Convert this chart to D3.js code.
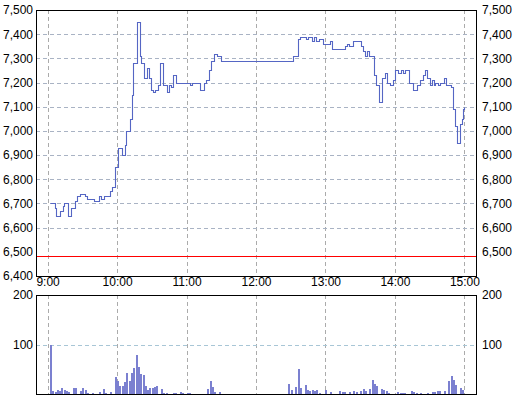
<!DOCTYPE html>
<html><head><meta charset="utf-8">
<script src="https://cdn.jsdelivr.net/npm/d3@7"></script>
<style>
html,body{margin:0;padding:0;background:#fff;}
svg{display:block;font-family:"Liberation Sans",Arial,sans-serif;font-size:12px;}
</style></head>
<body>
<svg id="c" width="514" height="401"></svg>
<script>
// ---- data ----
const priceTimes = ["9:02","9:06","9:07","9:11","9:13","9:14","9:18","9:20","9:24","9:25","9:28","9:32","9:34","9:40","9:44","9:46","9:49","9:54","9:56","9:58",
"10:01","10:04","10:07","10:08","10:11","10:13","10:14","10:17","10:20","10:21","10:23","10:26","10:28","10:29","10:31","10:33","10:35","10:37","10:40","10:43","10:45","10:47","10:48","10:51",
"11:03","11:05","11:12","11:15","11:17","11:19","11:21","11:24","11:26","11:30",
"12:32","12:36","12:38","12:43","12:45","12:48","12:50","12:52","12:54","12:58",
"13:04","13:06","13:17","13:19","13:20","13:24","13:31","13:32","13:34","13:36","13:38","13:42","13:44","13:46","13:49","13:51","13:53","13:56","13:58",
"14:00","14:03","14:05","14:07","14:09","14:12","14:16","14:19","14:22","14:24","14:26","14:28","14:30","14:32","14:34","14:35","14:37","14:39","14:42","14:44","14:48","14:50","14:52","14:54","14:56","14:58","14:59","15:00"];
const priceValues = [6700,6680,6650,6670,6690,6700,6650,6680,6710,6730,6740,6730,6720,6710,6730,6720,6730,6750,6770,6850,
6930,6900,6940,7000,7050,7150,7280,7450,7310,7280,7220,7260,7220,7170,7160,7170,7190,7280,7190,7160,7190,7180,7230,7200,
7190,7200,7170,7200,7210,7250,7290,7320,7310,7290,
7310,7380,7390,7380,7390,7370,7390,7370,7380,7360,
7370,7340,7350,7360,7350,7370,7350,7330,7310,7330,7310,7230,7190,7120,7220,7240,7200,7190,7210,
7250,7240,7250,7240,7250,7200,7170,7190,7210,7230,7250,7220,7190,7210,7190,7200,7190,7200,7220,7190,7180,7090,7020,6950,7030,7050,7090,7100,7100];
const volTimes = ["9:02","9:04","9:06","9:08","9:10","9:12","9:14","9:16","9:18","9:22","9:24","9:28","9:30","9:32","9:34","9:38","9:44","9:48","9:50","9:54","9:58",
"10:00","10:02","10:04","10:06","10:08","10:10","10:12","10:14","10:16","10:18","10:20","10:22","10:24","10:26","10:28","10:30","10:32","10:34","10:38","10:40","10:42","10:48","10:50","10:54","10:56",
"11:00","11:02","11:18","11:20","11:22","11:24","11:28",
"12:28","12:30","12:34","12:36","12:38","12:42","12:44","12:46","12:48","12:50","12:52","12:54",
"13:00","13:04","13:12","13:14","13:16","13:20","13:24","13:26","13:30","13:32","13:34","13:38","13:40","13:42","13:44","13:48","13:50","13:52","13:54",
"14:02","14:04","14:06","14:08","14:14","14:16","14:18","14:22","14:28","14:32","14:34","14:36","14:38","14:42","14:46","14:48","14:50","14:52","14:56","14:58"];
const volValues = [100,7,5,9,6,12,8,7,4,12,12,6,12,8,3,3,5,10,3,5,35,
27,16,16,25,43,27,42,52,78,55,40,39,16,9,13,13,15,17,11,3,2,3,3,5,3,
3,2,10,27,15,5,4,
21,9,14,50,13,19,8,7,9,7,9,2,
9,5,7,5,5,5,7,5,7,10,7,11,29,21,16,11,9,7,3,
5,3,3,3,7,5,3,3,3,5,5,7,7,7,27,36,28,19,13,9];
const refPrice = 6480;
const priceTicks = [7500,7400,7300,7200,7100,7000,6900,6800,6700,6600,6500,6400];
const priceGrid = [7400,7300,7200,7100,7000,6900,6800,6700,6600];
const volTicks = [200,100];
const timeTicks = ["9:00","10:00","11:00","12:00","13:00","14:00","15:00"];

// ---- drawing ----
const parse = d3.timeParse("%H:%M");
const svg = d3.select("#c");
const L = 36, R = 476, mT = 10, mB = 276, vT = 295, vB = 394;
const x = d3.scaleTime().domain([parse("8:50"), parse("15:10")]).range([L, R]);
const y = d3.scaleLinear().domain([6400, 7500]).range([mB, mT]);
const yv = d3.scaleLinear().domain([0, 200]).range([vB, vT]);
const fmt = d3.format(",");
const px = v => Math.round(v) + 0.5;

function grid(g, yTop, yBot, hVals, ys, hColor) {
  g.selectAll("line.vg").data(timeTicks).join("line").attr("class", "vg")
    .attr("x1", d => px(x(parse(d)))).attr("x2", d => px(x(parse(d))))
    .attr("y1", yTop).attr("y2", yBot)
    .style("stroke", "#ababab").attr("stroke-dasharray", "4,3");
  g.selectAll("line.hg").data(hVals).join("line").attr("class", "hg")
    .attr("x1", L).attr("x2", R)
    .attr("y1", d => px(ys(d))).attr("y2", d => px(ys(d)))
    .style("stroke", hColor).attr("stroke-dasharray", "4,3");
}

// main panel
const gm = svg.append("g");
grid(gm, mT, mB, priceGrid, y, "#a9b3c4");
gm.append("rect").attr("class", "ref")
  .attr("x", L).attr("width", R - L)
  .attr("y", Math.floor(y(refPrice))).attr("height", 1)
  .attr("shape-rendering", "crispEdges")
  .style("fill", "#ff0000");
const pdata = priceTimes.map((t, i) => [parse(t), priceValues[i]]);
gm.append("path").datum(pdata)
  .attr("d", d3.line().x(d => px(x(d[0]))).y(d => px(y(d[1]))).curve(d3.curveStepAfter))
  .style("fill", "none").style("stroke", "#5566c4").style("stroke-width", "1.1px");
gm.append("rect").attr("x", L + 0.5).attr("y", mT + 0.5).attr("width", R - L).attr("height", mB - mT)
  .style("fill", "none").style("stroke", "#000");

// volume panel
const gv = svg.append("g");
grid(gv, vT, vB, [100], yv, "#a8c6d6");
gv.selectAll("rect.bar").data(volTimes.map((t, i) => [parse(t), volValues[i]])).join("rect").attr("class", "bar")
  .attr("x", d => Math.round(x(d[0]))).attr("width", 2)
  .attr("y", d => Math.round(yv(d[1]))).attr("height", d => vB - Math.round(yv(d[1])))
  .style("fill", "#7b80d0");
gv.append("rect").attr("x", L + 0.5).attr("y", vT + 0.5).attr("width", R - L).attr("height", vB - vT)
  .style("fill", "none").style("stroke", "#000");

// axes labels
const axL = svg.append("g").attr("transform", `translate(${L - 3},0)`)
  .call(d3.axisLeft(y).tickValues(priceTicks).tickFormat(fmt).tickSize(0).tickPadding(0));
const axR = svg.append("g").attr("transform", `translate(${R + 6},0)`)
  .call(d3.axisRight(y).tickValues(priceTicks.slice(0, -1)).tickFormat(fmt).tickSize(0).tickPadding(0));
const avL = svg.append("g").attr("transform", `translate(${L - 3},0)`)
  .call(d3.axisLeft(yv).tickValues(volTicks).tickSize(0).tickPadding(0));
const avR = svg.append("g").attr("transform", `translate(${R + 6},0)`)
  .call(d3.axisRight(yv).tickValues(volTicks).tickSize(0).tickPadding(0));
const axB = svg.append("g").attr("transform", `translate(0,${mB})`)
  .call(d3.axisBottom(x).tickValues(timeTicks.map(parse)).tickFormat(d3.timeFormat("%-H:%M")).tickSize(0).tickPadding(1));
[axL, axR, avL, avR, axB].forEach(a => {
  a.select(".domain").remove();
  a.selectAll(".tick line").remove();
  a.selectAll("text").attr("fill", "#000").style("font-family", '"Liberation Sans",Arial,sans-serif').style("font-size", "12px");
});
</script>
</body></html>
